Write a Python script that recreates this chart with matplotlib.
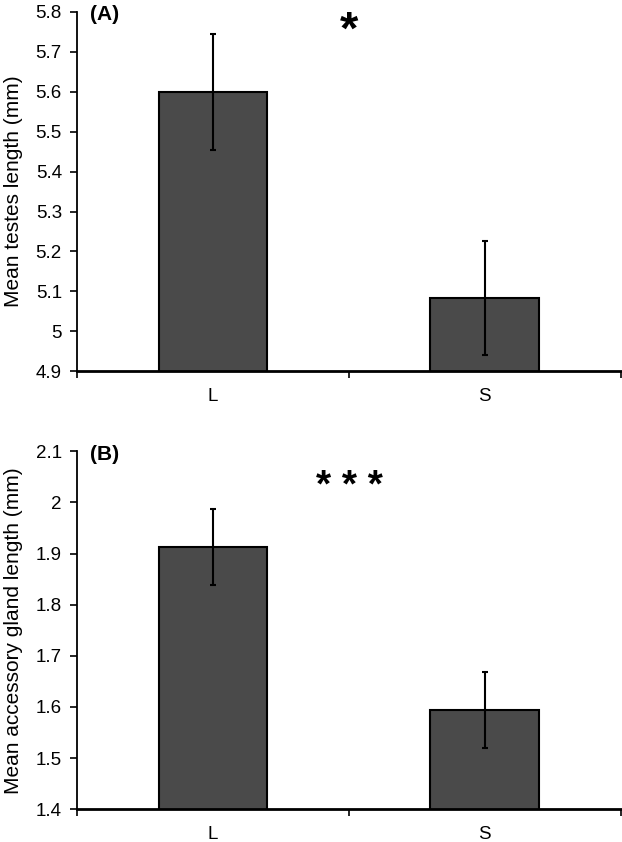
import matplotlib
matplotlib.use('Agg')
import matplotlib.pyplot as plt

plt.rcParams['font.family'] = ['Liberation Sans', 'DejaVu Sans']

# данные
groups = ['L', 'S']
testes_mean = [5.60, 5.083]
testes_err = [0.145, 0.142]
gland_mean = [1.913, 1.594]
gland_err = [0.075, 0.074]

fig = plt.figure(figsize=(6.22, 8.42), dpi=100)
ax1 = fig.add_axes([0.124, 0.559, 0.874, 0.427])
ax2 = fig.add_axes([0.124, 0.039, 0.874, 0.425])


def panel(ax, means, errs, ylim, ylabel, tag, stars, star_y, star_size):
    x = range(len(groups))
    ax.bar(x, means, width=0.4, color='#4a4a4a', edgecolor='black', linewidth=1.5)
    ax.errorbar(x, means, yerr=errs, fmt='none', ecolor='black', elinewidth=1.5,
                capsize=2.5, capthick=1.5)
    ax.set_xlim(-0.5, 1.5)
    ax.set_ylim(*ylim)
    ticks = [round(ylim[0] + i * 0.1, 2) for i in range(int(round((ylim[1] - ylim[0]) / 0.1)) + 1)]
    ax.set_yticks(ticks)
    ax.set_yticklabels([('%g' % t) for t in ticks])
    ax.set_xticks(list(x))
    ax.set_xticklabels(groups)
    ax.set_xticks([-0.5, 0.5, 1.5], minor=True)
    ax.tick_params(axis='x', which='major', length=0, pad=12, labelsize=13.5)
    ax.tick_params(axis='x', which='minor', length=5, width=1.2, direction='out')
    ax.tick_params(axis='y', length=5, width=1.2, direction='out', labelsize=13.5, pad=6)
    ax.spines['top'].set_visible(False)
    ax.spines['right'].set_visible(False)
    ax.spines['left'].set_linewidth(1.3)
    ax.spines['bottom'].set_linewidth(2)
    ax.set_ylabel(ylabel, fontsize=15)
    ax.yaxis.set_label_coords(-0.1, 0.5)
    ax.text(0.024, 1.018, tag, transform=ax.transAxes, fontsize=15, fontweight='bold',
            va='top', ha='left')
    ax.text(0.5, star_y, stars, transform=ax.transAxes, fontsize=star_size, fontweight='bold',
            va='center', ha='center')


panel(ax1, testes_mean, testes_err, (4.9, 5.8), 'Mean testes length (mm)', '(A)', '*', 0.945, 34)
panel(ax2, gland_mean, gland_err, (1.4, 2.1), 'Mean accessory gland length (mm)', '(B)', '* * *', 0.9, 28)

fig.savefig('out.png', dpi=100)
